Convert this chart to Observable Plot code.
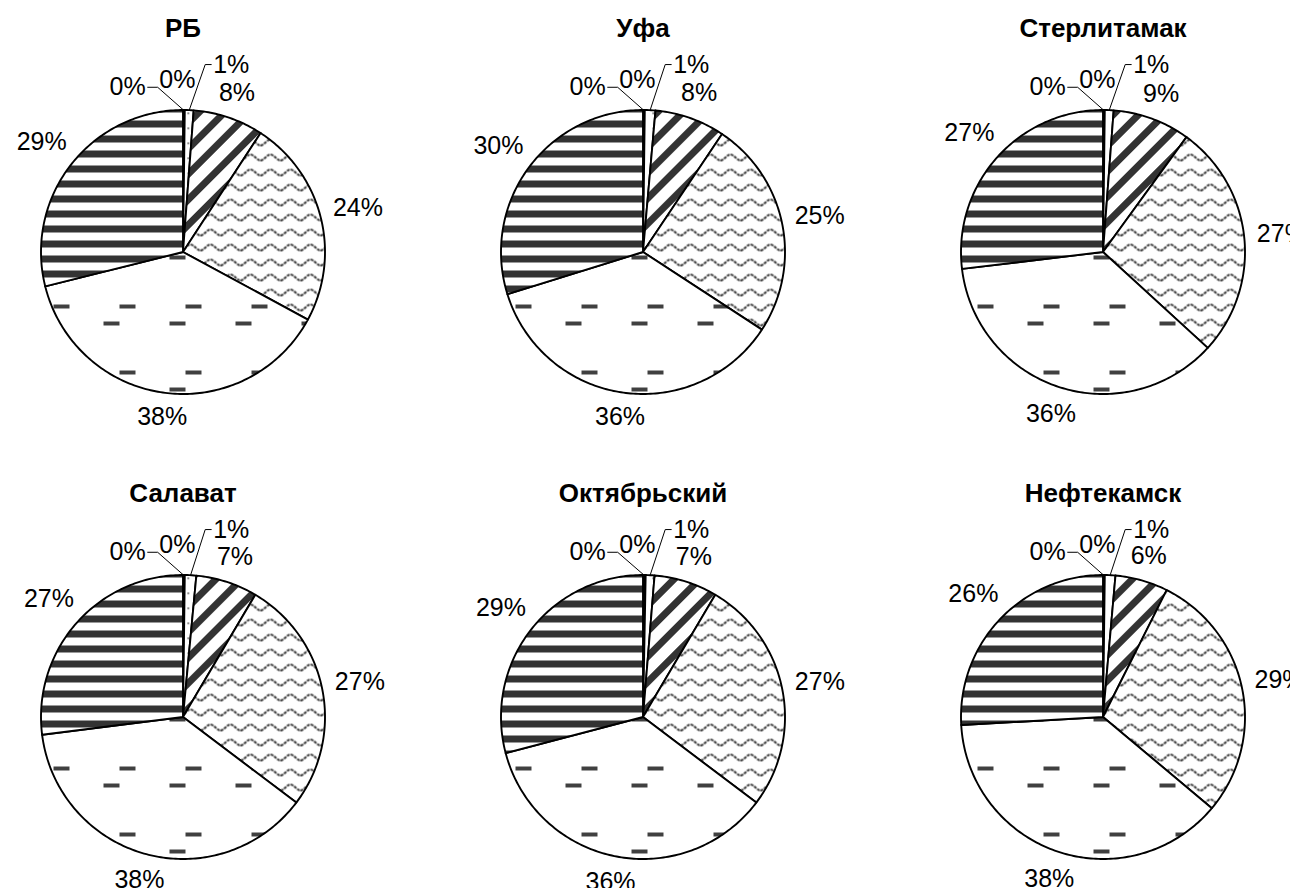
<!DOCTYPE html>
<html>
<head>
<meta charset="utf-8">
<script src="https://cdn.jsdelivr.net/npm/d3@7"></script>
<script src="https://cdn.jsdelivr.net/npm/@observablehq/plot@0.6"></script>
<style>
  html, body { margin: 0; padding: 0; background: #fff; }
  #chart svg { display: block; }
</style>
</head>
<body>
<div id="chart"></div>
<script>
// ---------------- DATA ----------------
const cities = ["РБ", "Уфа", "Стерлитамак", "Салават", "Октябрьский", "Нефтекамск"];
// seven categories, in clockwise order starting at 12 o'clock (shares, %)
const valuesRB          = [0.1, 0.1, 1.0, 8.0, 23.7, 38.2, 28.9];
const valuesUfa         = [0.1, 0.1, 1.2, 8.0, 24.8, 36.0, 29.8];
const valuesSterlitamak = [0.1, 0.1, 1.0, 8.8, 26.8, 36.3, 26.9];
const valuesSalavat     = [0.1, 0.1, 1.3, 7.0, 26.8, 37.7, 27.0];
const valuesOktyabrsky  = [0.2, 0.1, 1.0, 7.2, 26.8, 35.6, 29.1];
const valuesNeftekamsk  = [0.1, 0.1, 1.2, 6.0, 28.7, 38.0, 25.9];
const seriesValues = [valuesRB, valuesUfa, valuesSterlitamak, valuesSalavat, valuesOktyabrsky, valuesNeftekamsk];

// ---------------- LAYOUT / STYLE ----------------
const PX = 142;                 // pixels per unit radius
const COLSTEP = 460 / PX;       // distance between pie centres (columns)
const ROWSTEP = 465 / PX;       // distance between pie centres (rows)
const ORIGIN_X = 182.5, ORIGIN_Y = 251.5;
const LABEL_FONT = 25, TITLE_FONT = 26;
const GAP = 12;                 // px between rim and label box
const HALF_H = 9;               // px half height of label digits
const TITLE_DY = -223 / PX;
// fills per category
const fills = ["#333333", "white", "url(#pDots)", "url(#pDiag)", "url(#pWave)", "url(#pDash)", "url(#pStripe)"];
// placement of labels of tiny slices (units of radius, relative to centre)
const tinySlots = [
  {dx: -0.39, dy: -1.16, leader: "right"},
  {dx: -0.04, dy: -1.21, leader: null},
  {dx:  0.34, dy: -1.32, leader: "left"}
];

// ---------------- GEOMETRY ----------------
const pie = d3.pie().sort(null).value(d => d);
const polys = [], labels = [], leaders = [], titles = [];
const textWidth = s => LABEL_FONT * (0.556 * (s.length - 1) + 0.889);

cities.forEach((city, i) => {
  const cx = (i % 3) * COLSTEP, cy = Math.floor(i / 3) * ROWSTEP;
  titles.push({x: cx, y: cy + TITLE_DY, text: city});
  const arcs = pie(seriesValues[i]);
  let tiny = 0;
  arcs.forEach((a, j) => {
    const key = city + "-" + j;
    const span = a.endAngle - a.startAngle;
    const n = Math.max(2, Math.ceil(span / (Math.PI / 180)));
    polys.push({key, x: cx, y: cy, fill: fills[j]});
    for (let t = 0; t <= n; t++) {
      const ang = a.startAngle + span * t / n;
      polys.push({key, x: cx + Math.sin(ang), y: cy - Math.cos(ang), fill: fills[j]});
    }
    const mid = (a.startAngle + a.endAngle) / 2;
    const text = Math.round(a.data) + "%";
    const hw = textWidth(text) / 2;
    if (a.data < 2 && tiny < tinySlots.length) {
      const s = tinySlots[tiny++];
      const lx = cx + s.dx, ly = cy + s.dy;
      labels.push({x: lx, y: ly, text});
      const rim = {x: cx + Math.sin(mid), y: cy - Math.cos(mid)};
      if (s.leader === "right") {
        const ex = lx + (hw + 2) / PX;
        leaders.push({key, x: ex, y: ly}, {key, x: ex + 10 / PX, y: ly}, {key, ...rim});
      } else if (s.leader === "left") {
        const ex = lx - (hw + 2) / PX;
        leaders.push({key, x: ex, y: ly}, {key, x: ex - 6 / PX, y: ly}, {key, ...rim});
      }
    } else {
      const sx = Math.sin(mid), sy = -Math.cos(mid);
      const dist = (PX + GAP + hw * Math.abs(sx) + HALF_H * Math.abs(sy)) / PX;
      labels.push({x: cx + sx * dist, y: cy + sy * dist, text});
    }
  });
});

// ---------------- PLOT ----------------
const chart = Plot.plot({
  width: 1290,
  height: 888,
  margin: 0,
  x: {domain: [-ORIGIN_X / PX, (1290 - ORIGIN_X) / PX], range: [0, 1290]},
  y: {domain: [-ORIGIN_Y / PX, (888 - ORIGIN_Y) / PX], range: [0, 888]},
  axis: null,
  color: {type: "identity"},
  style: {fontFamily: "'Liberation Sans', Arial, sans-serif", background: "white", color: "black", overflow: "hidden"},
  marks: [
    Plot.line(polys, {x: "x", y: "y", z: "key", fill: "fill", stroke: "black", strokeWidth: 1.9,
                      strokeLinejoin: "round", curve: "linear-closed"}),
    Plot.line(leaders, {x: "x", y: "y", z: "key", stroke: "black", strokeWidth: 1}),
    Plot.text(labels, {x: "x", y: "y", text: "text", fontSize: LABEL_FONT, fill: "black"}),
    Plot.text(titles, {x: "x", y: "y", text: "text", fontSize: TITLE_FONT, fontWeight: "bold", fill: "black", ariaLabel: "title"})
  ]
});

// pattern definitions
const svg = chart.tagName.toLowerCase() === "svg" ? chart : chart.querySelector("svg");
d3.select(svg).selectAll('g[aria-label="title"] text').style("letter-spacing", "2px");
const defs = d3.select(svg).insert("defs", ":first-child");
// horizontal stripes
let p = defs.append("pattern").attr("id", "pStripe").attr("patternUnits", "userSpaceOnUse").attr("width", 15).attr("height", 15);
p.append("rect").attr("width", 15).attr("height", 15).attr("fill", "white");
p.append("rect").attr("y", 0).attr("width", 15).attr("height", 7).attr("fill", "#333");
// diagonal stripes "/"
p = defs.append("pattern").attr("id", "pDiag").attr("patternUnits", "userSpaceOnUse").attr("width", 18).attr("height", 18)
  .attr("patternTransform", "rotate(45)");
p.append("rect").attr("width", 18).attr("height", 18).attr("fill", "white");
p.append("rect").attr("x", 0).attr("width", 7).attr("height", 18).attr("fill", "#333");
// waves
p = defs.append("pattern").attr("id", "pWave").attr("patternUnits", "userSpaceOnUse").attr("width", 20).attr("height", 15);
p.append("rect").attr("width", 20).attr("height", 15).attr("fill", "white");
p.append("path").attr("d", "M0,10 C3.5,10 6.5,4 10,4 C13.5,4 16.5,10 20,10")
  .attr("fill", "none").attr("stroke", "#3a3a3a").attr("stroke-width", 2).attr("stroke-dasharray", "3 1");
// dashes
p = defs.append("pattern").attr("id", "pDash").attr("patternUnits", "userSpaceOnUse").attr("width", 66).attr("height", 66)
  .attr("patternTransform", "translate(53,40)");
p.append("rect").attr("width", 66).attr("height", 66).attr("fill", "white");
p.append("rect").attr("x", 0).attr("y", 0).attr("width", 16).attr("height", 4).attr("fill", "#404040");
p.append("rect").attr("x", 50).attr("y", 17).attr("width", 16).attr("height", 4).attr("fill", "#404040");
// sparse dots
p = defs.append("pattern").attr("id", "pDots").attr("patternUnits", "userSpaceOnUse").attr("width", 15).attr("height", 15);
p.append("rect").attr("width", 15).attr("height", 15).attr("fill", "white");
p.append("rect").attr("x", 7).attr("y", 7).attr("width", 1.5).attr("height", 1.5).attr("fill", "#333");

document.getElementById("chart").appendChild(chart);
</script>
</body>
</html>
